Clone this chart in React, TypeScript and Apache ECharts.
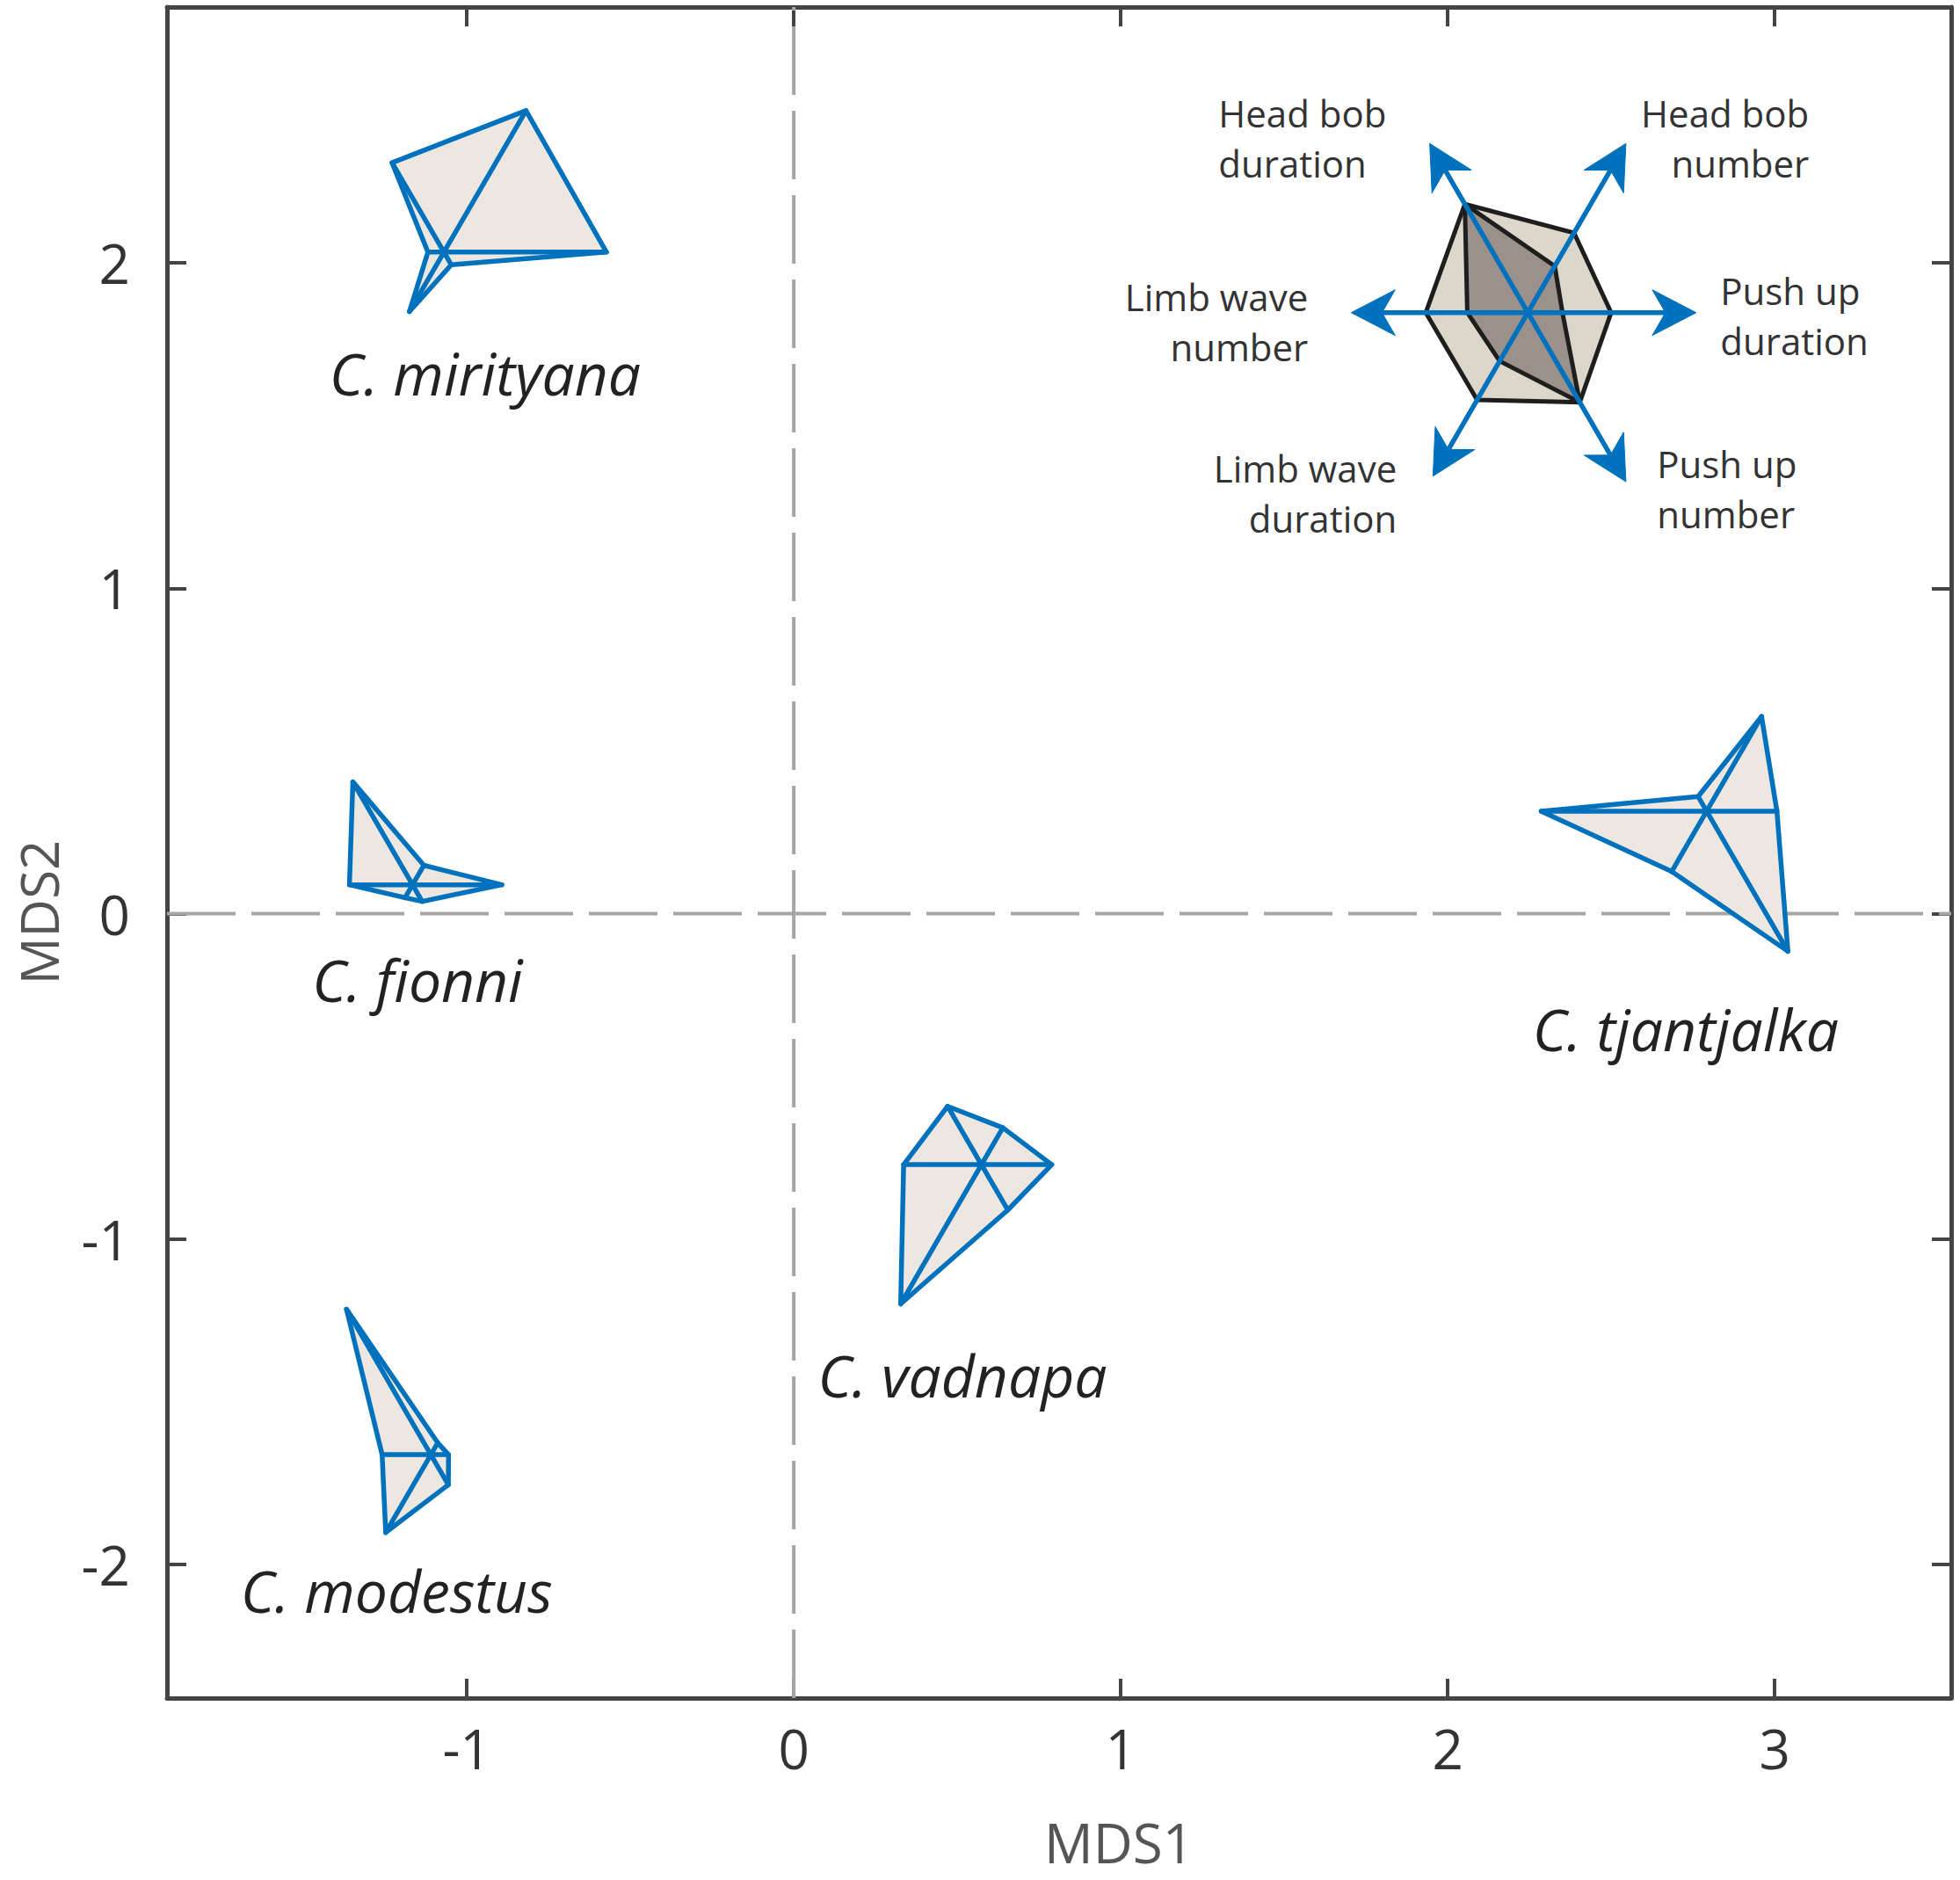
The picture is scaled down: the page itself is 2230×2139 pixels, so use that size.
import React, { useEffect, useRef } from "react";
import * as echarts from "echarts";

// ---------- data ----------
const species = ["C. mirityana", "C. fionni", "C. modestus", "C. vadnapa", "C. tjantjalka"];
const mds1 = [-1.07, -1.166, -1.11, 0.574, 2.792];
const mds2 = [2.033, 0.089, -1.662, -0.771, 0.315];
// glyph radii (MDS units), spokes at 0°,60°,120°,180°,240°,300°
const pushUpDuration = [0.497, 0.273, 0.054, 0.215, 0.215];
const headBobNumber = [0.502, 0.069, 0.042, 0.131, 0.336];
const headBobDuration = [0.317, 0.365, 0.516, 0.207, 0.052];
const limbWaveNumber = [0.049, 0.193, 0.149, 0.238, 0.506];
const limbWaveDuration = [0.211, 0.046, 0.276, 0.494, 0.214];
const pushUpNumber = [0.045, 0.059, 0.107, 0.161, 0.497];
// species label anchors (MDS units)
const labelX = [-0.944, -1.151, -1.215, 0.516, 2.728];
const labelY = [1.662, -0.201, -2.078, -1.416, -0.352];

const xTicks = [-1, 0, 1, 2, 3];
const yTicks = [-2, -1, 0, 1, 2];

// key glyph
const traitNames = [
  "Push up\nduration",
  "Head bob\nnumber",
  "Head bob\nduration",
  "Limb wave\nnumber",
  "Limb wave\nduration",
  "Push up\nnumber",
];
const keyCenter = [2.245, 1.847];
const keyOuter = [0.255, 0.283, 0.385, 0.312, 0.31, 0.318];
const keyInner = [0.106, 0.165, 0.385, 0.185, 0.172, 0.318];
const keyArrow = [0.515, 0.6, 0.6, 0.54, 0.58, 0.6];

const X_MIN = -1.917;
const X_MAX = 3.54;
const Y_MIN = -2.41;
const Y_MAX = 2.786;

const ANGLES = [0, 60, 120, 180, 240, 300].map((d) => (d * Math.PI) / 180);
const BLUE = "#0072BD";
const FILL = "#ECE8E1";
const LW = 5.5;

// label layout relative to key centre (pixels)
const KEY_LABEL_LAYOUT = [
  { dx: 219, dy: 3, align: "left" },
  { dx: 320, dy: -199, align: "right" },
  { dx: -352, dy: -199, align: "left" },
  { dx: -250, dy: 10, align: "right" },
  { dx: -149, dy: 205, align: "right" },
  { dx: 147, dy: 200, align: "left" },
];

export default function App() {
  const ref = useRef<HTMLDivElement>(null);

  useEffect(() => {
    document.body.style.margin = "0";
    if (!ref.current) return;
    const chart = echarts.init(ref.current, null, { renderer: "svg" });

    const glyphData = species.map((_, i) => [
      mds1[i],
      mds2[i],
      pushUpDuration[i],
      headBobNumber[i],
      headBobDuration[i],
      limbWaveNumber[i],
      limbWaveDuration[i],
      pushUpNumber[i],
    ]);

    const axisLineStyle = { color: "#444", width: 5 };
    const tickStyle = { color: "#444", width: 4 };

    const option: any = {
      animation: false,
      grid: { left: 190, right: 10, top: 8, bottom: 207, containLabel: false },
      xAxis: [
        {
          type: "value",
          min: X_MIN,
          max: X_MAX,
          position: "bottom",
          axisLine: { show: true, onZero: false, lineStyle: axisLineStyle },
          axisTick: { show: true, inside: true, length: 22, lineStyle: tickStyle, customValues: xTicks },
          axisLabel: {
            customValues: xTicks,
            fontSize: 62,
            color: "#333",
            fontFamily: "Open Sans",
            margin: 26,
          },
          splitLine: { show: false },
        },
        {
          type: "value",
          min: X_MIN,
          max: X_MAX,
          position: "top",
          axisLine: { show: true, onZero: false, lineStyle: axisLineStyle },
          axisTick: { show: true, inside: true, length: 22, lineStyle: tickStyle, customValues: xTicks },
          axisLabel: { show: false },
          splitLine: { show: false },
        },
      ],
      yAxis: [
        {
          type: "value",
          min: Y_MIN,
          max: Y_MAX,
          position: "left",
          axisLine: { show: true, onZero: false, lineStyle: axisLineStyle },
          axisTick: { show: true, inside: true, length: 22, lineStyle: tickStyle, customValues: yTicks },
          axisLabel: {
            customValues: yTicks,
            fontSize: 62,
            color: "#333",
            fontFamily: "Open Sans",
            margin: 42,
          },
          splitLine: { show: false },
        },
        {
          type: "value",
          min: Y_MIN,
          max: Y_MAX,
          position: "right",
          axisLine: { show: true, onZero: false, lineStyle: axisLineStyle },
          axisTick: { show: true, inside: true, length: 22, lineStyle: tickStyle, customValues: yTicks },
          axisLabel: { show: false },
          splitLine: { show: false },
        },
      ],
      graphic: [
        {
          type: "text",
          x: 1273,
          y: 2096,
          style: {
            text: "MDS1",
            fontSize: 62,
            lineHeight: 62,
            fontFamily: "Open Sans",
            fill: "#555",
            align: "center",
            verticalAlign: "middle",
          },
        },
        {
          type: "text",
          x: 44,
          y: 1038,
          rotation: Math.PI / 2,
          style: {
            text: "MDS2",
            fontSize: 60,
            lineHeight: 60,
            fontFamily: "Open Sans",
            fill: "#555",
            align: "center",
            verticalAlign: "middle",
          },
        },
      ],
      series: [
        {
          type: "line",
          xAxisIndex: 0,
          yAxisIndex: 0,
          data: [
            [0, Y_MIN],
            [0, Y_MAX],
          ],
          showSymbol: false,
          silent: true,
          z: 1,
          lineStyle: { color: "#A6A6A6", width: 4, type: [78, 18] },
        },
        {
          type: "line",
          xAxisIndex: 0,
          yAxisIndex: 0,
          data: [
            [X_MIN, 0],
            [X_MAX, 0],
          ],
          showSymbol: false,
          silent: true,
          z: 1,
          lineStyle: { color: "#A6A6A6", width: 4, type: [78, 18] },
        },
        {
          type: "custom",
          coordinateSystem: "cartesian2d",
          xAxisIndex: 0,
          yAxisIndex: 0,
          z: 3,
          data: glyphData,
          encode: { x: 0, y: 1 },
          renderItem: (params: any, api: any) => {
            const cx = api.value(0);
            const cy = api.value(1);
            const c = api.coord([cx, cy]);
            const pts = ANGLES.map((a, k) => {
              const r = api.value(2 + k);
              return api.coord([cx + r * Math.cos(a), cy + r * Math.sin(a)]);
            });
            const children: any[] = [
              {
                type: "polygon",
                shape: { points: pts },
                style: { fill: FILL, stroke: BLUE, lineWidth: LW, lineJoin: "round" },
              },
            ];
            pts.forEach((p: number[]) => {
              children.push({
                type: "line",
                shape: { x1: c[0], y1: c[1], x2: p[0], y2: p[1] },
                style: { stroke: BLUE, lineWidth: LW, lineCap: "round" },
              });
            });
            return { type: "group", children };
          },
        },
        {
          type: "custom",
          coordinateSystem: "cartesian2d",
          xAxisIndex: 0,
          yAxisIndex: 0,
          z: 4,
          data: species.map((_, i) => [labelX[i], labelY[i]]),
          encode: { x: 0, y: 1 },
          renderItem: (params: any, api: any) => {
            const p = api.coord([api.value(0), api.value(1)]);
            return {
              type: "text",
              x: p[0],
              y: p[1],
              style: {
                text: species[params.dataIndex],
                fontSize: 66,
                fontStyle: "italic",
                fontFamily: "Open Sans",
                fill: "#222",
                align: "center",
                verticalAlign: "middle",
              },
            };
          },
        },
        {
          type: "custom",
          coordinateSystem: "cartesian2d",
          xAxisIndex: 0,
          yAxisIndex: 0,
          z: 5,
          data: [keyCenter],
          encode: { x: 0, y: 1 },
          renderItem: (params: any, api: any) => {
            const cx = api.value(0);
            const cy = api.value(1);
            const c = api.coord([cx, cy]);
            const ring = (radii: number[]) =>
              ANGLES.map((a, k) => api.coord([cx + radii[k] * Math.cos(a), cy + radii[k] * Math.sin(a)]));
            const outer = ring(keyOuter);
            const inner = ring(keyInner);
            const tips = ring(keyArrow);
            const children: any[] = [
              {
                type: "polygon",
                shape: { points: outer },
                style: { fill: "#DDD6CB", stroke: "#1E1E1E", lineWidth: 5, lineJoin: "round" },
              },
              {
                type: "polygon",
                shape: { points: inner },
                style: { fill: "#9C918A", stroke: "#1E1E1E", lineWidth: 5, lineJoin: "round" },
              },
            ];
            tips.forEach((t: number[]) => {
              const dx = t[0] - c[0];
              const dy = t[1] - c[1];
              const len = Math.sqrt(dx * dx + dy * dy);
              const ux = dx / len;
              const uy = dy / len;
              const nx = -uy;
              const ny = ux;
              const headL = 50;
              const headW = 26;
              const notch = 35;
              children.push({
                type: "line",
                shape: { x1: c[0], y1: c[1], x2: t[0] - ux * notch, y2: t[1] - uy * notch },
                style: { stroke: BLUE, lineWidth: LW },
              });
              children.push({
                type: "polygon",
                shape: {
                  points: [
                    [t[0], t[1]],
                    [t[0] - ux * headL + nx * headW, t[1] - uy * headL + ny * headW],
                    [t[0] - ux * notch, t[1] - uy * notch],
                    [t[0] - ux * headL - nx * headW, t[1] - uy * headL - ny * headW],
                  ],
                },
                style: { fill: BLUE, stroke: BLUE, lineWidth: 1 },
              });
            });
            traitNames.forEach((name, k) => {
              const L = KEY_LABEL_LAYOUT[k];
              children.push({
                type: "text",
                x: c[0] + L.dx,
                y: c[1] + L.dy,
                style: {
                  text: name,
                  fontSize: 42,
                  lineHeight: 57,
                  fontFamily: "Open Sans",
                  fill: "#333",
                  align: L.align,
                  verticalAlign: "middle",
                },
              });
            });
            return { type: "group", children };
          },
        },
      ],
    };

    chart.setOption(option);
    return () => chart.dispose();
  }, []);

  return <div ref={ref} style={{ width: 2230, height: 2139 }} />;
}
